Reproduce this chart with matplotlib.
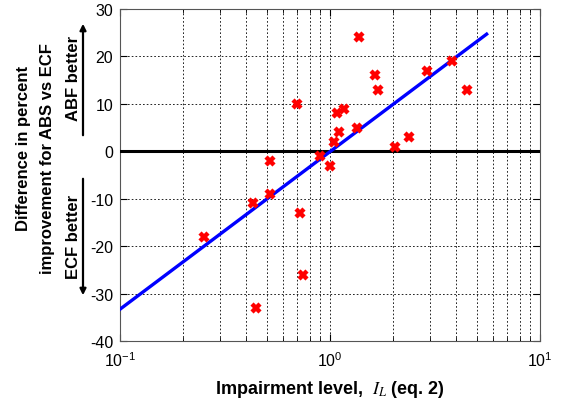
import numpy as np
import matplotlib
matplotlib.use("Agg")
import matplotlib.pyplot as plt
from matplotlib.ticker import LogLocator, NullFormatter

plt.rcParams['font.family'] = ['Liberation Sans', 'DejaVu Sans']
plt.rcParams['mathtext.fontset'] = 'stix'
plt.rcParams['axes.unicode_minus'] = False

# impairment level vs difference in percent improvement (ABS - ECF)
impairment = [0.25, 0.43, 0.445, 0.52, 0.52, 0.70, 0.72, 0.74, 0.90, 1.0, 1.04, 1.08,
              1.10, 1.17, 1.34, 1.38, 1.64, 1.70, 2.05, 2.38, 2.90, 3.82, 4.50]
difference = [-18, -11, -33, -2, -9, 10, -13, -26, -1, -3, 2, 8,
              4, 9, 5, 24, 16, 13, 1, 3, 17, 19, 13]

# fitted line end points
fit_x = [0.1, 5.57]
fit_y = [-33.3, 24.7]

W, H = 563, 402
fig = plt.figure(figsize=(W / 100, H / 100), dpi=100)
ax = fig.add_axes([120 / W, 1 - 342 / H, 420 / W, 332 / H])

ax.set_xscale('log')
ax.set_xlim(0.1, 10)
ax.set_ylim(-40, 30)
ax.set_yticks(range(-40, 31, 10))
ax.xaxis.set_minor_locator(LogLocator(base=10, subs=np.arange(2, 10)))
ax.xaxis.set_minor_formatter(NullFormatter())

ax.grid(True, which='both', axis='x', color='k', linestyle=(0, (2, 2.5)), linewidth=0.6)
ax.grid(True, which='major', axis='y', color='k', linestyle=(0, (2, 2.5)), linewidth=0.6)

ax.axhline(0, color='k', linewidth=2.2, zorder=3)
ax.plot(fit_x, fit_y, color='#0000ff', linewidth=2.4, zorder=4)
ax.plot(impairment, difference, linestyle='none', marker='x', markersize=5.5,
        markeredgewidth=3.2, color='#ff0000', zorder=5)

ax.tick_params(which='both', direction='in', top=True, right=True, labelsize=11.5)
ax.tick_params(axis='x', which='major', pad=7)
ax.tick_params(axis='y', which='major', pad=5)
ax.tick_params(which='major', length=5)
ax.tick_params(which='minor', length=3)
for s in ax.spines.values():
    s.set_linewidth(0.8)
    s.set_color('#555555')

ax.set_xlabel(r'Impairment level,  $I_L$ (eq. 2)', fontsize=13, fontweight='bold', labelpad=6)

# y label pieces in figure pixel coordinates (from top)
def fpos(x, y):
    return x / W, 1 - y / H

fig.text(*fpos(24, 148), 'Difference in percent', rotation=90, ha='center', va='center',
         fontsize=12, fontweight='bold')
fig.text(*fpos(48, 159), 'improvement for ABS vs ECF', rotation=90, ha='center', va='center',
         fontsize=12, fontweight='bold')
fig.text(*fpos(74, 78), 'ABF better', rotation=90, ha='center', va='center',
         fontsize=12, fontweight='bold')
fig.text(*fpos(74, 237), 'ECF better', rotation=90, ha='center', va='center',
         fontsize=12, fontweight='bold')

ax.annotate('', xy=(83, H - 22), xytext=(83, H - 139), xycoords='figure pixels',
            textcoords='figure pixels', annotation_clip=False,
            arrowprops=dict(arrowstyle='-|>', color='k', lw=1.6, mutation_scale=9))
ax.annotate('', xy=(83, H - 299), xytext=(83, H - 177), xycoords='figure pixels',
            textcoords='figure pixels', annotation_clip=False,
            arrowprops=dict(arrowstyle='-|>', color='k', lw=1.6, mutation_scale=9))

fig.savefig('out.png', dpi=100)
